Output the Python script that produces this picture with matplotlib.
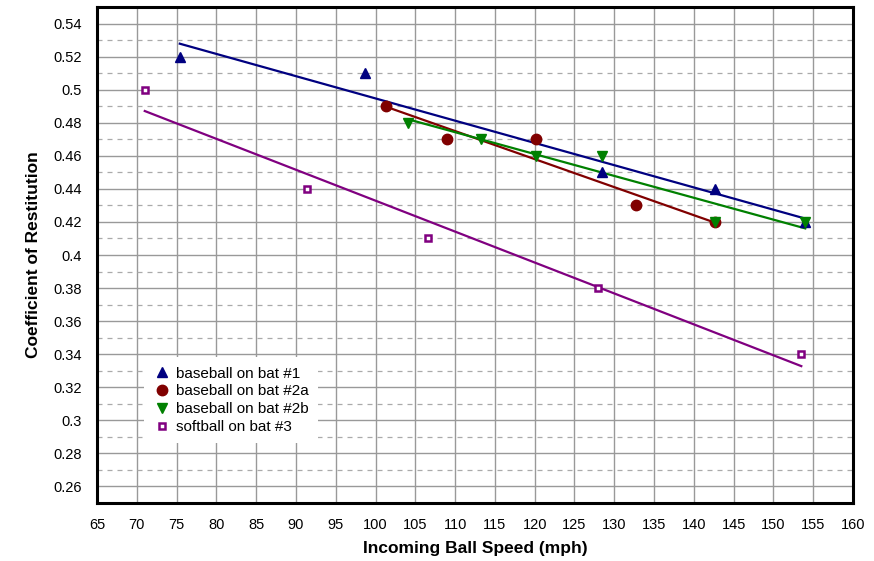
import numpy as np
import matplotlib.pyplot as plt
from matplotlib.ticker import MultipleLocator

plt.rcParams['font.family'] = ['Liberation Sans', 'DejaVu Sans']

# data
bat1_x = [75.4, 98.7, 128.4, 142.7, 154.0]
bat1_y = [0.52, 0.51, 0.45, 0.44, 0.42]

bat2a_x = [101.3, 109.0, 120.2, 132.7, 142.7]
bat2a_y = [0.49, 0.47, 0.47, 0.43, 0.42]

bat2b_x = [104.1, 113.2, 120.2, 128.4, 142.7, 154.0]
bat2b_y = [0.48, 0.47, 0.46, 0.46, 0.42, 0.42]

soft_x = [71.0, 91.4, 106.6, 127.9, 153.5]
soft_y = [0.50, 0.44, 0.41, 0.38, 0.34]

x_ticks = np.arange(65, 161, 5)
y_ticks = np.arange(0.26, 0.545, 0.02)

fig = plt.figure(figsize=(8.74, 5.61), dpi=100)
ax = fig.add_axes([0.111, 0.1034, 0.865, 0.8841])

series = [
    (bat1_x, bat1_y, '#000080', '^', 'baseball on bat #1', {}),
    (bat2a_x, bat2a_y, '#800000', 'o', 'baseball on bat #2a', {}),
    (bat2b_x, bat2b_y, '#008000', 'v', 'baseball on bat #2b', {}),
    (soft_x, soft_y, '#800080', 's', 'softball on bat #3', {'mfc': 'white', 'mew': 1.8}),
]

for xs, ys, col, mk, lab, kw in series:
    # linear trend line over the range of the data
    k, b = np.polyfit(xs, ys, 1)
    xx = np.array([min(xs), max(xs)])
    ax.plot(xx, k * xx + b, color=col, lw=1.6, zorder=3)
    ms = 4.3 if mk == 's' else 7.5
    ax.plot(xs, ys, ls='none', marker=mk, color=col, ms=ms, label=lab, zorder=4, **kw)

ax.set_xlim(65, 160)
ax.set_ylim(0.25, 0.55)
ax.set_xticks(x_ticks)
ax.set_yticks(y_ticks)
ax.set_yticklabels(['%g' % round(v, 2) for v in y_ticks])
ax.yaxis.set_minor_locator(MultipleLocator(0.01))

ax.grid(True, which='major', color='#999999', lw=1.0, zorder=1)
ax.grid(True, which='minor', axis='y', color='#aaaaaa', lw=0.9, ls=(0, (4, 4)), zorder=1)
ax.tick_params(which='both', length=0, labelsize=10.5, pad=11)
ax.tick_params(axis='y', which='minor', length=0)

for s in ax.spines.values():
    s.set_linewidth(2.2)
    s.set_color('black')

ax.set_xlabel('Incoming Ball Speed (mph)', fontsize=12.5, fontweight='bold', labelpad=6)
ax.set_ylabel('Coefficient of Restitution', fontsize=12.5, fontweight='bold', labelpad=9)

leg = ax.legend(loc='lower left', bbox_to_anchor=(0.052, 0.105), frameon=True,
                fontsize=11, handletextpad=0.4, handlelength=1.1, borderpad=0.6,
                labelspacing=0.25, fancybox=False)
leg.get_frame().set_edgecolor('none')
leg.get_frame().set_facecolor('white')
leg.get_frame().set_alpha(1)
leg.set_zorder(5)

fig.savefig('out.png', dpi=100)
